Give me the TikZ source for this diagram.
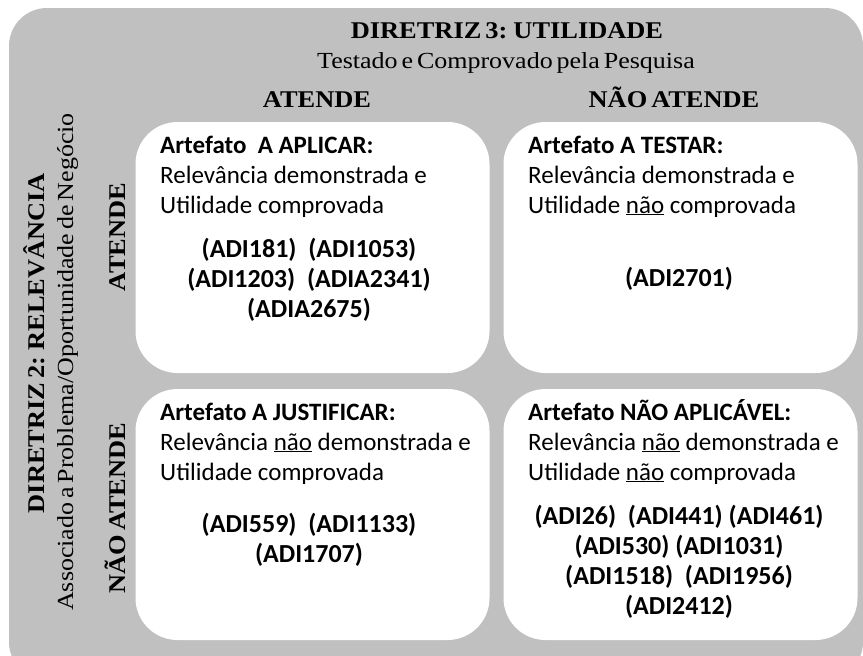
\documentclass[tikz,border=0pt]{standalone}
\usepackage{fontspec}
\setmainfont{Carlito}
\newfontfamily\tnr[FakeStretch=1.10, WordSpace=0.6]{Liberation Serif}
\newfontfamily\tnrsub[FakeStretch=1.13, WordSpace=0.6]{Liberation Serif}
\definecolor{panelgrey}{RGB}{192,192,192}
\tikzset{
  panel/.style={fill=white, rounded corners=42pt, minimum width=354pt, minimum height=251pt, inner sep=0pt, draw=none},
  head/.style={font=\tnr\bfseries\fontsize{24}{26}\selectfont, inner sep=0pt, anchor=base},
  sub/.style={font=\tnrsub\fontsize{23}{26}\selectfont, inner sep=0pt, anchor=base},
  boxline/.style={font=\fontsize{25}{30}\selectfont, inner sep=0pt, anchor=base west},
  boxhead/.style={font=\bfseries\fontsize{25}{30}\selectfont, inner sep=0pt, anchor=base west},
  adi/.style={font=\bfseries\fontsize{26}{30}\selectfont, inner sep=0pt, anchor=base},
}
\begin{document}
\begin{tikzpicture}[x=1pt,y=-1pt]
\clip (0,0) rectangle (863,656);
\fill[panelgrey, rounded corners=38pt] (9,8) rectangle (863,680);
% panels
\node[panel] (tl) at (312.5,247.5) {};
\node[panel] (tr) at (680.5,247.5) {};
\node[panel] (bl) at (312.5,514.5) {};
\node[panel] (br) at (680.5,514.5) {};
% top headings
\node[head] (d3) at (507,38) {DIRETRIZ 3: UTILIDADE};
\node[sub] (d3s) at (506,68) {Testado e Comprovado pela Pesquisa};
\node[head] (catA) at (317,107) {ATENDE};
\node[head] (catN) at (674,107) {NÃO ATENDE};
% left headings
\node[head, rotate=90] (d2) at (44,343) {DIRETRIZ 2: RELEVÂNCIA};
\node[sub, rotate=90] (d2s) at (73,362) {Associado a Problema/Oportunidade de Negócio};
\node[head, rotate=90] (rowA) at (125,237) {ATENDE};
\node[head, rotate=90] (rowN) at (125,508) {NÃO ATENDE};
% top-left
\node[boxhead] (tl1) at (160,153) {Artefato\ \ A APLICAR:};
\node[boxline] (tl2) at (160,183) {Relevância demonstrada e};
\node[boxline] (tl3) at (160,213) {Utilidade comprovada};
\node[adi] (tl4) at (309,257) {(ADI181)\ \ (ADI1053)};
\node[adi] (tl5) at (309,287) {(ADI1203)\ \ (ADIA2341)};
\node[adi] (tl6) at (309,317) {(ADIA2675)};
% top-right
\node[boxhead] (tr1) at (528,153) {Artefato A TESTAR:};
\node[boxline] (tr2) at (528,183) {Relevância demonstrada e};
\node[boxline] (tr3) at (528,213) {Utilidade \underline{não} comprovada};
\node[adi] (tr4) at (679,286) {(ADI2701)};
% bottom-left
\node[boxhead] (bl1) at (160,420) {Artefato A JUSTIFICAR:};
\node[boxline] (bl2) at (160,450) {Relevância \underline{não} demonstrada e};
\node[boxline] (bl3) at (160,480) {Utilidade comprovada};
\node[adi] (bl4) at (309,532) {(ADI559)\ \ (ADI1133)};
\node[adi] (bl5) at (309,562) {(ADI1707)};
% bottom-right
\node[boxhead] (br1) at (528,420) {Artefato NÃO APLICÁVEL:};
\node[boxline] (br2) at (528,450) {Relevância \underline{não} demonstrada e};
\node[boxline] (br3) at (528,480) {Utilidade \underline{não} comprovada};
\node[adi] (br4) at (679,524) {(ADI26)\ \ (ADI441) (ADI461)};
\node[adi] (br5) at (679,554) {(ADI530) (ADI1031)};
\node[adi] (br6) at (679,584) {(ADI1518)\ \ (ADI1956)};
\node[adi] (br7) at (679,614) {(ADI2412)};
\end{tikzpicture}
\end{document}
